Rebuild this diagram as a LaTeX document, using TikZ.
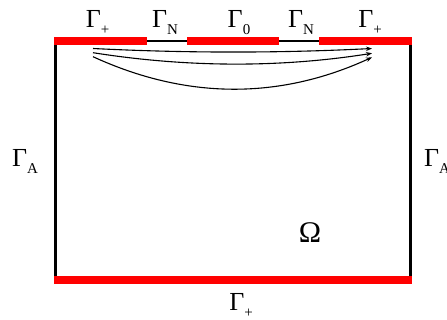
\documentclass[tikz,border=0pt]{standalone}
\usepackage{fontspec}
\setmainfont{Liberation Serif}
\usetikzlibrary{arrows.meta}
\definecolor{cbar}{RGB}{255,0,0}
\newcommand{\gam}[1]{Γ\raisebox{-7pt}{\fontsize{15}{15}\selectfont #1}}

\begin{document}
\begin{tikzpicture}[x=1pt,y=-1pt,
  wall/.style={line width=2.4pt,black},
  bar/.style={line width=8pt,cbar},
  flow/.style={-{Stealth[length=6pt,width=4.5pt]},line width=1.1pt},
  lbl/.style={font=\fontsize{26}{30}\selectfont,inner sep=0pt,anchor=base},
]
\useasboundingbox (0,0) rectangle (447,320);
\coordinate (nw) at (55.5,41);
\coordinate (ne) at (410.5,41);
\coordinate (sw) at (55.5,280);
\coordinate (se) at (410.5,280);
\draw[wall] (nw) -- (ne) -- (se) -- (sw) -- cycle;
\draw[bar] (54,41) -- (147,41);
\draw[bar] (187,41) -- (279,41);
\draw[bar] (319,41) -- (412,41);
\draw[bar] (54,280) -- (412,280);
\coordinate (s1) at (93,48.5);
\coordinate (s2) at (93,52.7);
\coordinate (s3) at (93,56.7);
\coordinate (e1) at (372,48.5);
\coordinate (e2) at (372,53.3);
\coordinate (e3) at (372,57.3);
\draw[flow] (s1) .. controls +(93,4.7) and +(-93,4.7) .. (e1);
\draw[flow] (s2) .. controls +(93,14.7) and +(-93,14.7) .. (e2);
\draw[flow] (s3) .. controls +(93,42.7) and +(-93,42.7) .. (e3);
\node[lbl] (gp1) at (97.5,28) {\gam{+}};
\node[lbl] (gn1) at (165,28) {\gam{N}};
\node[lbl] (g0) at (239,28) {\gam{0}};
\node[lbl] (gn2) at (301,28) {\gam{N}};
\node[lbl] (gp2) at (370,28) {\gam{+}};
\node[lbl] (ga1) at (25,167) {\gam{A}};
\node[lbl] (ga2) at (437,167) {\gam{A}};
\node[lbl] (gp3) at (241,310) {\gam{+}};
\node[lbl,font=\fontsize{30}{34}\selectfont] (om) at (310,243) {Ω};
\end{tikzpicture}
\end{document}
